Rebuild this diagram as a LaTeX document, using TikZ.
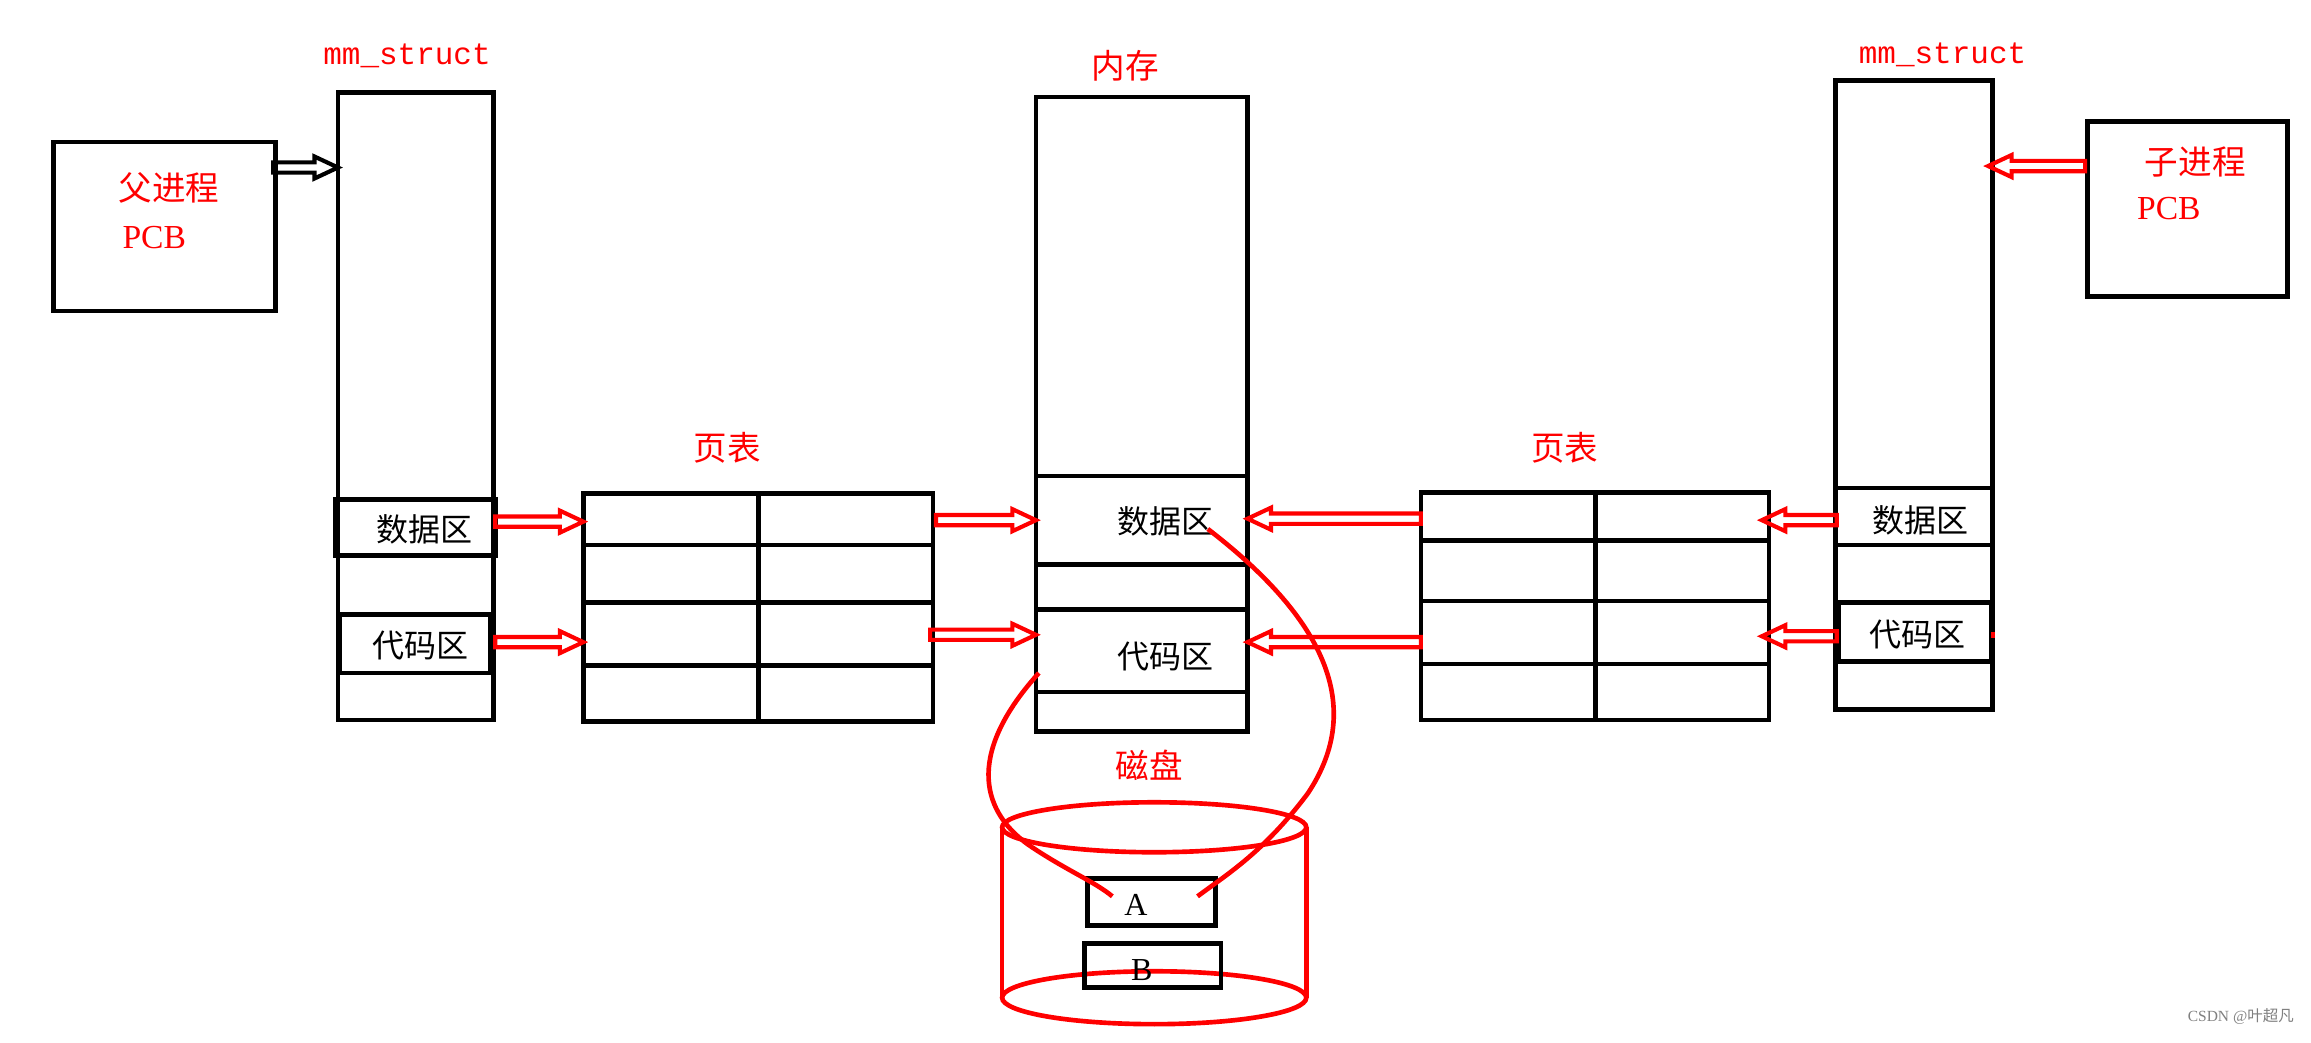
\documentclass[tikz,border=0pt]{standalone}
\usepackage{fontspec}
\newfontfamily\cjk{Noto Sans CJK SC}
\setmainfont{Liberation Serif}
\setmonofont{Liberation Mono}
\begin{document}
\begin{tikzpicture}[x=0.1mm,y=-0.1mm,
  box/.style={draw=black,line width=0.9pt},
  rl/.style={text=red,font=\cjk\fontsize{6.5}{7}\selectfont},
  bl/.style={text=black,font=\cjk\fontsize{6.2}{7}\selectfont},
  ml/.style={text=red,font=\ttfamily\fontsize{6}{7}\selectfont},
  rc/.style={draw=red,line width=0.9pt}]
\newcommand\rarr[4]{\draw[#4,line width=0.8pt] (#1,#3-3.5)--(#2-16,#3-3.5)--(#2-16,#3-7.5)--(#2,#3)--(#2-16,#3+7.5)--(#2-16,#3+3.5)--(#1,#3+3.5)--cycle;}
\newcommand\larr[4]{\draw[#4,line width=0.8pt] (#1,#3-3.5)--(#2+16,#3-3.5)--(#2+16,#3-7.5)--(#2,#3)--(#2+16,#3+7.5)--(#2+16,#3+3.5)--(#1,#3+3.5)--cycle;}
\fill[white] (0,0) rectangle (1568,704);
% father PCB
\node[box,minimum width=15.1mm,minimum height=11.5mm,anchor=north west] (fp) at (35,95) {};
\node[rl] (fpt) at (115,128) {父进程};
\node[rl,font=\fontsize{6.5}{7}\selectfont] (fpp) at (105,162) {PCB};
\rarr{186}{230}{114}{black}
% left mm_struct
\node[ml] (lmt) at (277,38) {mm\_struct};
\draw[box] (230,63) rectangle (336,490);
\draw[box] (228,340) rectangle (337,378);
\draw[box] (231,418) rectangle (334,458);
\node[bl] (ld) at (289,360) {数据区};
\node[bl] (lc) at (286,439) {代码区};
% left page table
\node[rl] (lpt) at (495,305) {页表};
\draw[box] (397,336) rectangle (635,491);
\foreach \y in {371,410,453} \draw[box] (397,\y)--(635,\y);
\draw[box] (516,336)--(516,491);
% memory
\node[rl] (mt) at (766,45) {内存};
\draw[box] (705,66) rectangle (849,498);
\draw[box] (705,324) rectangle (849,384);
\draw[box] (705,415)--(849,415);
\draw[box] (705,471)--(849,471);
\node[bl] (md) at (793,355) {数据区};
\node[bl] (mc) at (793,447) {代码区};
% right page table
\node[rl] (rpt) at (1065,305) {页表};
\draw[box] (967,335) rectangle (1204,490);
\foreach \y in {368,409,452} \draw[box] (967,\y)--(1204,\y);
\draw[box] (1086,335)--(1086,490);
% right mm_struct
\node[ml] (rmt) at (1322,37) {mm\_struct};
\draw[box] (1249,55) rectangle (1356,483);
\draw[box] (1249,332) rectangle (1356,371);
\draw[box] (1251,410) rectangle (1355,450);
\node[bl] (rd) at (1307,354) {数据区};
\node[bl] (rc) at (1305,432) {代码区};
\draw[red,line width=1.2pt] (1355,432)--(1358,432);
% child PCB
\node[box,minimum width=13.6mm,minimum height=11.9mm,anchor=north west] (cp) at (1419,81) {};
\node[rl] (cpt) at (1494,110) {子进程};
\node[rl,font=\fontsize{6.5}{7}\selectfont] (cpp) at (1476,142) {PCB};
% arrows
\rarr{337}{397}{355}{red}
\rarr{337}{397}{437}{red}
\rarr{637}{705}{354}{red}
\rarr{633}{705}{432}{red}
\larr{967}{849}{353}{red}
\larr{967}{849}{437}{red}
\larr{1250}{1199}{354}{red}
\larr{1250}{1199}{433}{red}
\larr{1419}{1353}{113}{red}
% disk
\node[rl] (dk) at (782,521) {磁盘};
\draw[rc] (785.5,563) ellipse (103.5 and 17);
\draw[rc] (785.5,679) ellipse (103.5 and 18);
\draw[rc] (682,563)--(682,679);
\draw[rc] (889,563)--(889,679);
\draw[box] (740,598) rectangle (827,630);
\node[bl,font=\fontsize{6.2}{7}\selectfont] (a) at (773,616) {A};
\draw[box] (738,642) rectangle (831,672);
\node[bl,font=\fontsize{6.2}{7}\selectfont] (b) at (777,660) {B};
% curves
\draw[rc] (822,360) .. controls (900,420) and (930,480) .. (890,540) .. controls (860,580) and (835,595) .. (815,610);
\draw[rc] (707,458) .. controls (660,510) and (665,550) .. (700,575) .. controls (725,592) and (745,600) .. (757,610);
\node[font=\fontsize{3}{4}\selectfont,text=gray] (wm) at (1525,692) {CSDN @\cjk 叶超凡};
\end{tikzpicture}
\end{document}
